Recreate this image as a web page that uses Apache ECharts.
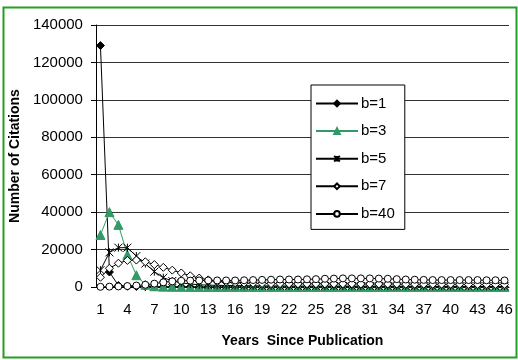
<!DOCTYPE html>
<html>
<head>
<meta charset="utf-8">
<script src="https://cdn.jsdelivr.net/npm/echarts@6/dist/echarts.min.js"></script>
<style>
  html, body { margin: 0; padding: 0; background: #fff; }
  #chart { width: 518px; height: 360px; }
</style>
</head>
<body>
<div id="chart"></div>
<script>
const years = Array.from({ length: 46 }, (_, i) => String(i + 1))

const b1 = [129000, 8000, 800, 400, 300, 200, 150, 100, 80, 60, 50, 40, 30, 30, 20, 20, 20, 10, 10, 10,
  10, 10, 10, 10, 10, 10, 10, 10, 10, 10, 10, 10, 10, 10, 10, 10, 10, 10, 10, 10, 10, 10, 10, 10, 10, 10]
const b3 = [27800, 40000, 33200, 17200, 6300, 1200, 400, 200, 100, 80, 60, 50, 40, 40, 30, 30, 30, 30, 30, 30,
  30, 30, 30, 30, 30, 30, 30, 30, 30, 30, 30, 30, 30, 30, 30, 30, 30, 30, 30, 30, 30, 30, 30, 30, 30, 30]
const b5 = [9000, 18500, 21000, 21000, 16500, 12500, 8200, 5000, 3200, 2200, 1600, 1200, 1000, 900, 800, 750, 700, 650, 600, 600,
  550, 550, 500, 500, 500, 500, 500, 500, 500, 500, 500, 500, 450, 450, 450, 450, 450, 400, 400, 400, 400, 400, 400, 400, 400, 400]
const b7 = [5200, 10000, 12700, 14200, 14400, 13500, 12000, 10500, 9000, 7500, 6000, 4800, 3800, 3000, 2600, 2300, 2100, 2000, 1900, 1800,
  1800, 1700, 1700, 1700, 1700, 1700, 1700, 1700, 1700, 1600, 1600, 1600, 1600, 1600, 1500, 1500, 1500, 1500, 1500, 1500, 1500, 1400, 1400, 1400, 1400, 1400]
const b40 = [100, 200, 300, 500, 800, 1200, 1800, 2500, 3000, 3300, 3400, 3500, 3500, 3500, 3500, 3500, 3600, 3700, 3800, 3900,
  4000, 4000, 4000, 4100, 4200, 4400, 4500, 4600, 4600, 4600, 4600, 4500, 4400, 4200, 4000, 3900, 3800, 3700, 3700, 3700, 3700, 3700, 3700, 3600, 3600, 3500]

const FONT = '"Liberation Sans", Arial, sans-serif'
const chart = echarts.init(document.getElementById('chart'))

function line(name, data, symbol, size, fill, stroke, lineColor) {
  return {
    name,
    type: 'line',
    data,
    symbol,
    symbolSize: size,
    showAllSymbol: true,
    lineStyle: { color: lineColor, width: 1 },
    itemStyle: { color: fill, borderColor: stroke, borderWidth: 1 },
    emphasis: { disabled: true },
    animation: false,
  }
}

chart.setOption({
  backgroundColor: '#fff',
  textStyle: { fontFamily: FONT },
  graphic: [{
    type: 'rect',
    shape: { x: 3.5, y: 7.5, width: 513, height: 350 },
    style: { fill: 'none', stroke: '#22a022', lineWidth: 2 },
    z: -1,
  }],
  grid: { left: 95, right: 9, top: 25, bottom: 73 },
  legend: {
    orient: 'vertical',
    left: 311,
    top: 85,
    padding: [11, 10, 8, 4],
    itemWidth: 42,
    itemHeight: 7,
    itemGap: 12.6,
    backgroundColor: '#fff',
    borderColor: '#000',
    borderWidth: 1,
    textStyle: { fontFamily: FONT, fontSize: 15, color: '#000', padding: [0, 0, 0, -2] },
    data: ['b=1', 'b=3', 'b=5', 'b=7', 'b=40'],
  },
  xAxis: {
    type: 'category',
    data: years,
    boundaryGap: true,
    name: 'Years  Since Publication',
    nameLocation: 'middle',
    nameGap: 47,
    nameTextStyle: { fontFamily: FONT, fontSize: 14, fontWeight: 'bold', color: '#000' },
    axisLine: { lineStyle: { color: '#000', width: 1 } },
    axisTick: { show: false },
    axisLabel: { interval: 2, margin: 15, fontSize: 15, color: '#000', fontFamily: FONT },
  },
  yAxis: {
    type: 'value',
    min: 0,
    max: 140000,
    interval: 20000,
    name: 'Number of Citations',
    nameLocation: 'middle',
    nameGap: 72,
    nameTextStyle: { fontFamily: FONT, fontSize: 14, fontWeight: 'bold', color: '#000' },
    axisLine: { show: true, lineStyle: { color: '#000', width: 1 } },
    axisTick: { show: true, length: 5, lineStyle: { color: '#000' } },
    axisLabel: { margin: 13, fontSize: 15, color: '#000', fontFamily: FONT, formatter: (v) => String(v) },
    splitLine: { lineStyle: { color: '#333', width: 1 } },
  },
  series: [
    line('b=1', b1, 'diamond', 8, '#000', '#000', '#000'),
    line('b=3', b3, 'triangle', 9, '#339966', '#339966', '#339966'),
    line('b=5', b5, 'path://M0,0L10,10M10,0L0,10M5,0L5,10', 8, 'none', '#000', '#000'),
    line('b=7', b7, 'diamond', 8, '#fff', '#000', '#000'),
    line('b=40', b40, 'circle', 7, '#fff', '#000', '#000'),
  ],
})
</script>
</body>
</html>
